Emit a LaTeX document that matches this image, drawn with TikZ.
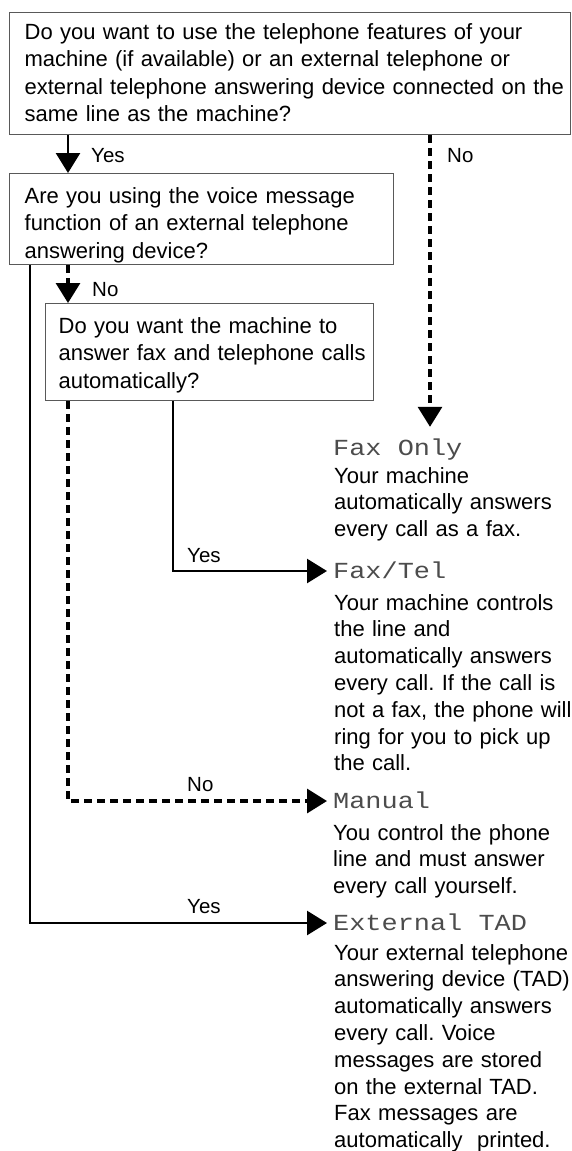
\documentclass[tikz,border=0pt]{standalone}
\usepackage{fontspec}
\setmainfont{Liberation Sans}
\newfontfamily\lcd[FakeStretch=1.17]{Liberation Mono}
\usetikzlibrary{arrows.meta}
\frenchspacing
\begin{document}
\begin{tikzpicture}[x=1pt,y=-1pt,
  qbox/.style={draw=black!65, line width=1.3pt, anchor=north west, inner ysep=0pt,
    align=left, font=\fontsize{22}{27.3}\selectfont},
  desc/.style={anchor=base west, inner sep=0pt, text width=238pt, align=left,
    font=\fontsize{22}{26.8}\selectfont},
  lcdlabel/.style={anchor=base west, inner xsep=6pt, inner ysep=13pt, text height=15pt,
    text depth=0pt, font=\lcd\fontsize{23}{23}\selectfont, text=black!70},
  answer/.style={anchor=base west, inner sep=0pt, font=\fontsize{20.5}{24}\selectfont},
  solidarrow/.style={line width=2.6pt, -{Triangle[length=20pt,width=24pt]}},
  dasharrow/.style={line width=3.2pt, dash pattern=on 8pt off 5pt, -{Triangle[length=20pt,width=24pt]}},
]
\path[use as bounding box] (0,0) rectangle (572,1151);

% question boxes
\node[qbox, inner xsep=15pt, text width=531pt, text height=27pt, text depth=95pt] (q1) at (9,12)
  {\mbox{Do you want to use the telephone features of your}\\
   \mbox{machine (if available) or an external telephone or}\\
   \mbox{external telephone answering device connected on the}\\
   \mbox{same line as the machine?}};
\node[qbox, inner xsep=15pt, text width=354pt, text height=30pt, text depth=61pt] (q2) at (9,173)
  {\mbox{Are you using the voice message}\\
   \mbox{function of an external telephone}\\
   \mbox{answering device?}};
\node[qbox, inner xsep=13pt, text width=302pt, text height=30pt, text depth=67pt] (q3) at (45,303)
  {\mbox{Do you want the machine to}\\
   \mbox{answer fax and telephone calls}\\
   \mbox{automatically?}};

% mode labels
\node[lcdlabel] (faxonly) at (327,455) {Fax Only};
\node[lcdlabel] (faxtel) at (327,578.5) {Fax/Tel};
\node[lcdlabel] (manual) at (327,808.5) {Manual};
\node[lcdlabel] (exttad) at (327,930.5) {External TAD};

% descriptions
\node[desc] (dfaxonly) at (334,483)
  {\mbox{Your machine}\\ \mbox{automatically answers}\\ \mbox{every call as a fax.}};
\node[desc] (dfaxtel) at (334,610)
  {\mbox{Your machine controls}\\ \mbox{the line and}\\ \mbox{automatically answers}\\
   \mbox{every call. If the call is}\\ \mbox{not a fax, the phone will}\\
   \mbox{ring for you to pick up}\\ \mbox{the call.}};
\node[desc] (dmanual) at (333,840)
  {\mbox{You control the phone}\\ \mbox{line and must answer}\\ \mbox{every call yourself.}};
\node[desc] (dexttad) at (334,960)
  {\mbox{Your external telephone}\\ \mbox{answering device (TAD)}\\ \mbox{automatically answers}\\
   \mbox{every call. Voice}\\ \mbox{messages are stored}\\ \mbox{on the external TAD.}\\
   \mbox{Fax messages are}\\ \mbox{automatically\ \ printed.}};

% answer labels
\node[answer] (yes1) at (91,162) {Yes};
\node[answer] (no1) at (447,162) {No};
\node[answer] (no2) at (92,296) {No};
\node[answer] (yes3) at (187,562) {Yes};
\node[answer] (no3) at (187,791) {No};
\node[answer] (yes2) at (187,913) {Yes};

% x positions of connectors
\coordinate (xa) at (68,0);
\coordinate (xb) at (430,0);
\coordinate (xc) at (30,0);
\coordinate (xd) at (173,0);

% connectors
\draw[solidarrow] (q1.south -| xa) -- (q2.north -| xa);
\draw[dasharrow] (q1.south -| xb) -- (faxonly.north -| xb);
\draw[dasharrow] (q2.south -| xa) -- (q3.north -| xa);
\draw[solidarrow] (q2.south -| xc) |- (exttad.west);
\draw[solidarrow] (q3.south -| xd) |- (faxtel.west);
\draw[dasharrow] (q3.south -| xa) |- (manual.west);
\end{tikzpicture}
\end{document}
